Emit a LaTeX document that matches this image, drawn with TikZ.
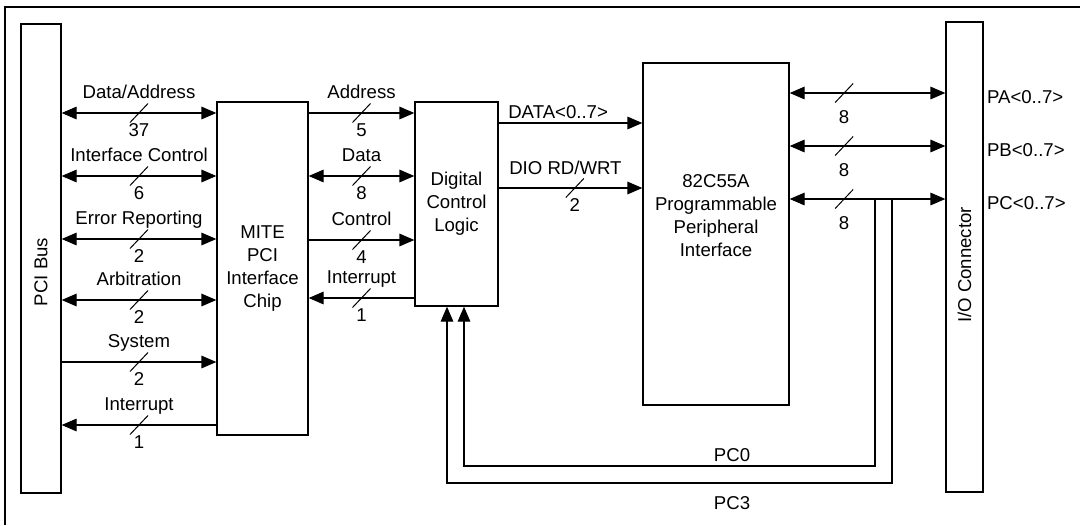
\documentclass[tikz,border=0pt]{standalone}
\usepackage{fontspec}
\setmainfont{Liberation Sans}
\usetikzlibrary{arrows.meta}
\tikzset{
  block/.style={draw, line width=0.65pt, inner sep=0pt, align=center},
  arrow/.style={line width=0.65pt, -{Triangle[length=7.5pt,width=6.3pt]}},
  dblarrow/.style={line width=0.65pt, {Triangle[length=7.5pt,width=6.3pt]}-{Triangle[length=7.5pt,width=6.3pt]}},
  lbl/.style={anchor=base, inner sep=0pt, yshift=#1},
  lbl/.default=7.5pt,
  num/.style={anchor=base, inner sep=0pt, yshift=-#1},
  num/.default=11.7pt,
  slash/.pic={\draw[-, line width=0.5pt] (-4.5pt,-4.75pt) -- (4.5pt,4.75pt);}
}
\begin{document}
\begin{tikzpicture}[x=0.5pt, y=-0.5pt, font=\fontsize{9.3pt}{11.5pt}\selectfont]
    \useasboundingbox (0,0) rectangle (1080,525);
    % frame
    \draw[line width=1.1pt] (5,525) -- (5,7) -- (1080,7);

    % blocks
    \node (pcibus) [block, minimum width=20pt, minimum height=234.5pt] at (41,258.5) {};
    \node (pcibustext) [rotate=90] at (41,272) {PCI Bus};
    \node (mite) [block, minimum width=45.5pt, minimum height=166.5pt] at (262.5,268.5) {MITE\\PCI\\Interface\\Chip};
    \node (dcl) [block, minimum width=41.5pt, minimum height=102pt] at (456.5,204) {Digital\\Control\\Logic};
    \node (ppi) [block, minimum width=73pt, minimum height=171pt] at (716,234) {};
    \node (ppitext) [align=center] at (716,216) {82C55A\\Programmable\\Peripheral\\Interface};
    \node (ioconn) [block, minimum width=18.5pt, minimum height=235pt] at (964.5,257) {};
    \node (iotext) [rotate=90] at (964.5,265) {I/O Connector};

    % PCI bus <-> MITE
    \draw [dblarrow] (pcibus.east |- 0,113) -- pic[pos=.5]{slash} node[pos=.5, lbl] (dataaddr) {Data/Address} node[pos=.5, num] (dataaddrn) {37} (mite.west |- 0,113);
    \draw [dblarrow] (pcibus.east |- 0,176) -- pic[pos=.5]{slash} node[pos=.5, lbl] (ifctrl) {Interface Control} node[pos=.5, num] (ifctrln) {6} (mite.west |- 0,176);
    \draw [dblarrow] (pcibus.east |- 0,239) -- pic[pos=.5]{slash} node[pos=.5, lbl] (errrep) {Error Reporting} node[pos=.5, num] (errrepn) {2} (mite.west |- 0,239);
    \draw [dblarrow] (pcibus.east |- 0,300) -- pic[pos=.5]{slash} node[pos=.5, lbl] (arbit) {Arbitration} node[pos=.5, num] (arbitn) {2} (mite.west |- 0,300);
    \draw [arrow] (pcibus.east |- 0,362) -- pic[pos=.5]{slash} node[pos=.5, lbl] (system) {System} node[pos=.5, num] (systemn) {2} (mite.west |- 0,362);
    \draw [arrow] (mite.west |- 0,425) -- pic[pos=.5]{slash} node[pos=.5, lbl] (pciint) {Interrupt} node[pos=.5, num] (pciintn) {1} (pcibus.east |- 0,425);

    % MITE <-> digital control logic
    \draw [arrow] (mite.east |- 0,113) -- pic[pos=.5]{slash} node[pos=.5, lbl] (addr) {Address} node[pos=.5, num] (addrn) {5} (dcl.west |- 0,113);
    \draw [dblarrow] (mite.east |- 0,176) -- pic[pos=.5]{slash} node[pos=.5, lbl] (data) {Data} node[pos=.5, num] (datan) {8} (dcl.west |- 0,176);
    \draw [arrow] (mite.east |- 0,240) -- pic[pos=.5]{slash} node[pos=.5, lbl] (ctrl) {Control} node[pos=.5, num] (ctrln) {4} (dcl.west |- 0,240);
    \draw [arrow] (dcl.west |- 0,298) -- pic[pos=.5]{slash} node[pos=.5, lbl] (dclint) {Interrupt} node[pos=.5, num] (dclintn) {1} (mite.east |- 0,298);

    % digital control logic -> 82C55A
    \draw [arrow] (dcl.east |- 0,123) -- node[pos=0, anchor=base west, inner sep=0pt, xshift=4.5pt, yshift=2.2pt] (data07) {DATA<0..7>} (ppi.west |- 0,123);
    \draw [arrow] (dcl.east |- 0,188) -- node[pos=0, anchor=base west, inner sep=0pt, xshift=5pt, yshift=6.7pt] (diorw) {DIO RD/WRT} pic[pos=.53]{slash} node[pos=.53, num] (diorwn) {2} (ppi.west |- 0,188);

    % 82C55A <-> I/O connector
    \draw [dblarrow] (ppi.east |- 0,93) -- pic[pos=.35]{slash} node[pos=.35, num=15pt] (pan) {8} (ioconn.west |- 0,93);
    \draw [dblarrow] (ppi.east |- 0,146) -- pic[pos=.35]{slash} node[pos=.35, num=15pt] (pbn) {8} (ioconn.west |- 0,146);
    \draw [dblarrow] (ppi.east |- 0,199) -- pic[pos=.35]{slash} node[pos=.35, num=15pt] (pcn) {8} (ioconn.west |- 0,199);
    \node (pa) [anchor=base west, inner sep=0pt, xshift=1.5pt] at (ioconn.east |- 0,103.7) {PA<0..7>};
    \node (pb) [anchor=base west, inner sep=0pt, xshift=1.5pt] at (ioconn.east |- 0,156.7) {PB<0..7>};
    \node (pc) [anchor=base west, inner sep=0pt, xshift=1.5pt] at (ioconn.east |- 0,209.7) {PC<0..7>};

    % PC0 and PC3 back to digital control logic
    \coordinate (pc0) at (875,199);
    \coordinate (pc3) at (892,199);
    \draw [arrow] (pc0) |- (464,466) -- (dcl.south -| 464,0);
    \draw [arrow] (pc3) |- (447,483) -- (dcl.south -| 447,0);
    \node (pc0text) [anchor=base, inner sep=0pt, yshift=2.2pt] at (732,466) {PC0};
    \node (pc3text) [anchor=base, inner sep=0pt, yshift=-13pt] at (732,483) {PC3};
\end{tikzpicture}
\end{document}
